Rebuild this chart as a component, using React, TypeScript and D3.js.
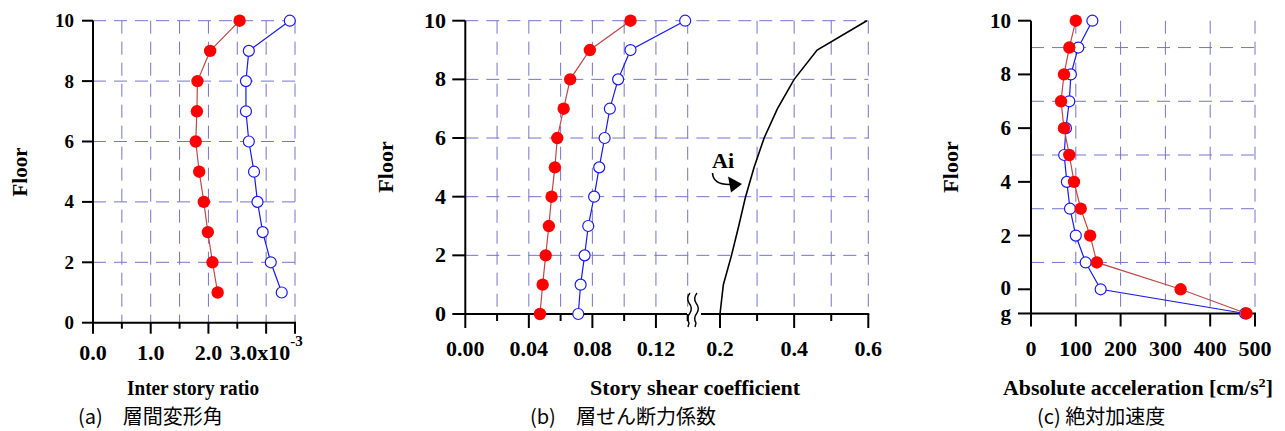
import React from "react";
import * as d3 from "d3";

// ---------- data ----------
const floorsA = [1, 2, 3, 4, 5, 6, 7, 8, 9, 10];
const driftRed = [2.16, 2.07, 1.99, 1.92, 1.84, 1.78, 1.8, 1.81, 2.03, 2.54];
const driftBlue = [3.27, 3.08, 2.94, 2.85, 2.79, 2.7, 2.65, 2.65, 2.7, 3.41];
const xTicksA = [0, 0.5, 1, 1.5, 2, 2.5, 3, 3.5];
const xLabelsA = ["0.0", "1.0", "2.0", "3.0"];

const floorsB = [0, 1, 2, 3, 4, 5, 6, 7, 8, 9, 10];
const shearRed = [0.047, 0.0487, 0.0506, 0.0526, 0.0543, 0.0564, 0.0579, 0.0619, 0.066, 0.0784, 0.104];
const shearBlue = [0.0711, 0.0726, 0.0751, 0.0774, 0.0811, 0.0843, 0.0877, 0.091, 0.0962, 0.104, 0.1384];
const aiCurve = [0.2, 0.209, 0.231, 0.2505, 0.269, 0.292, 0.319, 0.355, 0.4, 0.462, 0.596];
const xTicksBLeft = [0, 0.02, 0.04, 0.06, 0.08, 0.1, 0.12, 0.14];
const xLabelsBLeft = ["0.00", "0.04", "0.08", "0.12"];
const xTicksBRight = [0.2, 0.3, 0.4, 0.5, 0.6];
const xLabelsBRight = ["0.2", "0.4", "0.6"];

const floorLabelsC = ["g", "0", "1", "2", "3", "4", "5", "6", "7", "8", "9", "10"];
const floorPosC = [-0.9, 0, 1, 2, 3, 4, 5, 6, 7, 8, 9, 10];
const accRed = [481, 334, 147, 132, 111, 96, 85.5, 73.7, 67, 73.7, 85.5, 100];
const accBlue = [478, 155.5, 122, 100, 87, 80, 74, 78, 85.5, 89, 105.6, 137];
const xTicksC = [0, 100, 200, 300, 400, 500];

const yTicksEven = [0, 2, 4, 6, 8, 10];

// ---------- styles ----------
const SERIF = "Liberation Serif, Times New Roman, serif";
const CJK = "Noto Sans CJK JP, Noto Sans, sans-serif";
const GRID = "#7474cc";
const DASH = "13,8";
const RED_LINE = "#c04848";
const RED_FILL = "#ff0000";
const BLUE = "#1a1aee";

type Pt = [number, number];

const tickStyle: React.CSSProperties = { fontFamily: SERIF, fontWeight: "bold", fontSize: "22px" };
const yTickStyle: React.CSSProperties = { fontFamily: SERIF, fontWeight: "bold", fontSize: "21px" };
const tickStyleSmall: React.CSSProperties = { fontFamily: SERIF, fontWeight: "bold", fontSize: "19px" };
const titleStyle: React.CSSProperties = { fontFamily: SERIF, fontWeight: "bold", fontSize: "20px" };
const capStyle: React.CSSProperties = { fontFamily: CJK, fontWeight: "normal", fontSize: "20px" };

function Series({ pts, line, fill, stroke, r, open }: { pts: Pt[]; line: string; fill: string; stroke: string; r: number; open: boolean }) {
  const path = d3.line<Pt>().x((d) => d[0]).y((d) => d[1])(pts) || "";
  return (
    <g>
      <path d={path} fill="none" stroke={line} strokeWidth={1.2} />
      {pts.map((p, i) => (
        <circle key={i} cx={p[0]} cy={p[1]} r={r} fill={fill} stroke={open ? stroke : "none"} strokeWidth={1.2} />
      ))}
    </g>
  );
}

export default function App() {
  // Panel A scales
  const xA = d3.scaleLinear().domain([0, 3.5]).range([93, 295]);
  const yA = d3.scaleLinear().domain([0, 10]).range([322.7, 20.7]);
  // Panel B scales
  const xBL = d3.scaleLinear().domain([0, 0.14]).range([465.3, 687.7]);
  const xBR = d3.scaleLinear().domain([0.2, 0.6]).range([720, 868.3]);
  const yB = d3.scaleLinear().domain([0, 10]).range([314, 20.7]);
  // Panel C scales
  const xC = d3.scaleLinear().domain([0, 500]).range([1031, 1255]);
  const yC = d3.scaleLinear().domain([0, 10]).range([289.3, 20.7]);

  const aiPts: Pt[] = floorsB.map((f, i) => [xBR(aiCurve[i]), yB(f)]);
  const aiPath = d3.line<Pt>().x((d) => d[0]).y((d) => d[1])(aiPts) || "";

  return (
    <svg width={1285} height={431} style={{ position: "absolute", left: 0, top: 0, background: "#fff" }}>
      <rect x={0} y={0} width={1285} height={431} fill="#fff" />

      {/* ================= Panel A ================= */}
      <g>
        {xTicksA.filter((t) => t > 0).map((t) => (
          <line key={"gv" + t} x1={xA(t)} x2={xA(t)} y1={yA(10)} y2={yA(0)} stroke={GRID} strokeDasharray={DASH} />
        ))}
        {yTicksEven.filter((t) => t > 0).map((t) => (
          <line key={"gh" + t} x1={xA(0)} x2={xA(3.5)} y1={yA(t)} y2={yA(t)} stroke={GRID} strokeDasharray={DASH} />
        ))}
        <line x1={xA(0)} x2={xA(0)} y1={yA(10)} y2={yA(0) + 1} stroke="#000" strokeWidth={2} />
        <line x1={xA(0) - 1} x2={xA(3.5) + 1} y1={yA(0)} y2={yA(0)} stroke="#000" strokeWidth={2} />
        {yTicksEven.map((t) => (
          <g key={"yt" + t}>
            <line x1={xA(0) - 11} x2={xA(0)} y1={yA(t)} y2={yA(t)} stroke="#000" strokeWidth={2} />
            <text x={74} y={yA(t) + 6.5} textAnchor="end" style={tickStyleSmall}>{t}</text>
          </g>
        ))}
        {xTicksA.map((t, i) => (
          <line key={"xt" + t} x1={xA(t)} x2={xA(t)} y1={yA(0)} y2={yA(0) + (i % 2 === 0 || t === 3.5 ? 11 : 6)} stroke="#000" strokeWidth={2} />
        ))}
        {xLabelsA.slice(0, 3).map((l, i) => (
          <text key={l} x={xA(i)} y={360} textAnchor="middle" style={tickStyle}>{l}</text>
        ))}
        <text x={xA(3)} y={360} textAnchor="middle" style={tickStyle}>
          {xLabelsA[3]}x10<tspan dy={-14} style={{ fontSize: "15px" }}>-3</tspan>
        </text>
        <text x={193} y={395} textAnchor="middle" style={titleStyle} textLength={132} lengthAdjust="spacingAndGlyphs">Inter story ratio</text>
        <text transform={`translate(27,172) rotate(-90)`} textAnchor="middle" style={yTickStyle}>Floor</text>
        <text x={78} y={424} style={capStyle}>(a)　層間変形角</text>

        <Series pts={floorsA.map((f, i) => [xA(driftBlue[i]), yA(f)] as Pt)} line={BLUE} fill="#fff" stroke={BLUE} r={5.5} open={true} />
        <Series pts={floorsA.map((f, i) => [xA(driftRed[i]), yA(f)] as Pt)} line={RED_LINE} fill={RED_FILL} stroke={RED_FILL} r={6.2} open={false} />
      </g>

      {/* ================= Panel B ================= */}
      <g>
        {xTicksBLeft.filter((t) => t > 0).map((t) => (
          <line key={"gvl" + t} x1={xBL(t)} x2={xBL(t)} y1={yB(10)} y2={yB(0)} stroke={GRID} strokeDasharray={DASH} />
        ))}
        {xTicksBRight.filter((t) => t > 0.2).map((t) => (
          <line key={"gvr" + t} x1={xBR(t)} x2={xBR(t)} y1={yB(10)} y2={yB(0)} stroke={GRID} strokeDasharray={DASH} />
        ))}
        {yTicksEven.filter((t) => t > 0).map((t) => (
          <line key={"gh" + t} x1={xBL(0)} x2={xBR(0.6)} y1={yB(t)} y2={yB(t)} stroke={GRID} strokeDasharray={DASH} />
        ))}
        <line x1={xBL(0)} x2={xBL(0)} y1={yB(10)} y2={yB(0) + 1} stroke="#000" strokeWidth={2} />
        <line x1={xBL(0) - 1} x2={687} y1={yB(0)} y2={yB(0)} stroke="#000" strokeWidth={2} />
        <line x1={701} x2={xBR(0.6) + 1} y1={yB(0)} y2={yB(0)} stroke="#000" strokeWidth={2} />
        {/* axis break */}
        <path d="M690,293 Q686,298 689,303 Q693,308 690,313 Q686,318 689,323 L688,327" fill="none" stroke="#000" strokeWidth={1.4} />
        <path d="M697,293 Q693,298 696,303 Q700,308 697,313 Q693,318 696,323 L695,327" fill="none" stroke="#000" strokeWidth={1.4} />
        {yTicksEven.map((t) => (
          <g key={"yt" + t}>
            <line x1={xBL(0) - 13} x2={xBL(0)} y1={yB(t)} y2={yB(t)} stroke="#000" strokeWidth={2} />
            <text x={446} y={yB(t) + 7} textAnchor="end" style={tickStyle}>{t}</text>
          </g>
        ))}
        {xTicksBLeft.map((t, i) => (
          <line key={"xtl" + t} x1={xBL(t)} x2={xBL(t)} y1={yB(0)} y2={yB(0) + (i % 2 === 0 ? 14 : 7)} stroke="#000" strokeWidth={2} />
        ))}
        {xTicksBRight.map((t, i) => (
          <line key={"xtr" + t} x1={xBR(t)} x2={xBR(t)} y1={yB(0)} y2={yB(0) + (i % 2 === 0 ? 14 : 7)} stroke="#000" strokeWidth={2} />
        ))}
        {xLabelsBLeft.map((l) => (
          <text key={l} x={xBL(+l)} y={356} textAnchor="middle" style={tickStyle}>{l}</text>
        ))}
        {xLabelsBRight.map((l) => (
          <text key={l} x={xBR(+l)} y={356} textAnchor="middle" style={tickStyle}>{l}</text>
        ))}
        <text x={695} y={395} textAnchor="middle" style={titleStyle} textLength={210} lengthAdjust="spacingAndGlyphs">Story shear coefficient</text>
        <text transform={`translate(393,167) rotate(-90)`} textAnchor="middle" style={tickStyle}>Floor</text>
        <text x={530} y={424} style={capStyle}>(b)　層せん断力係数</text>

        <path d={aiPath} fill="none" stroke="#000" strokeWidth={1.6} />
        <text x={712} y={168} style={tickStyle}>Ai</text>
        <path d="M712.5,173 C713,181 719,185 731,184.5" fill="none" stroke="#000" strokeWidth={1.6} />
        <path d="M742,184 L728,176.5 L731,192.5 Z" fill="#000" />

        <Series pts={floorsB.map((f, i) => [xBL(shearBlue[i]), yB(f)] as Pt)} line={BLUE} fill="#fff" stroke={BLUE} r={5.5} open={true} />
        <Series pts={floorsB.map((f, i) => [xBL(shearRed[i]), yB(f)] as Pt)} line={RED_LINE} fill={RED_FILL} stroke={RED_FILL} r={6.2} open={false} />
      </g>

      {/* ================= Panel C ================= */}
      <g>
        {xTicksC.filter((t) => t > 0).map((t) => (
          <line key={"gv" + t} x1={xC(t)} x2={xC(t)} y1={yC(10)} y2={yC(-0.9)} stroke={GRID} strokeDasharray={DASH} />
        ))}
        {[1, 3, 5, 7, 9].map((t) => (
          <line key={"gh" + t} x1={xC(0)} x2={xC(500)} y1={yC(t)} y2={yC(t)} stroke={GRID} strokeDasharray={DASH} />
        ))}
        <line x1={xC(0)} x2={xC(0)} y1={yC(10)} y2={yC(-0.9) + 1} stroke="#000" strokeWidth={2} />
        <line x1={xC(0) - 1} x2={xC(500) + 1} y1={yC(-0.9)} y2={yC(-0.9)} stroke="#000" strokeWidth={2} />
        {floorLabelsC.map((l, i) =>
          l === "g" || +l % 2 === 0 ? (
            <g key={"yt" + l}>
              <line x1={xC(0) - 13} x2={xC(0)} y1={yC(floorPosC[i])} y2={yC(floorPosC[i])} stroke="#000" strokeWidth={2} />
              <text x={1011} y={l === "g" ? 320 : yC(floorPosC[i]) + (l === "0" ? 6 : 7)} textAnchor="end" style={yTickStyle}>{l}</text>
            </g>
          ) : null
        )}
        {xTicksC.map((t) => (
          <g key={"xt" + t}>
            <line x1={xC(t)} x2={xC(t)} y1={yC(-0.9)} y2={yC(-0.9) + 13} stroke="#000" strokeWidth={2} />
            <text x={xC(t)} y={356} textAnchor="middle" style={tickStyle}>{t}</text>
          </g>
        ))}
        <text x={1003} y={395} style={titleStyle} textLength={270} lengthAdjust="spacingAndGlyphs">
          Absolute acceleration [cm/s<tspan dy={-8} style={{ fontSize: "13px" }}>2</tspan><tspan dy={8}>]</tspan>
        </text>
        <text transform={`translate(958,167) rotate(-90)`} textAnchor="middle" style={tickStyle}>Floor</text>
        <text x={1037} y={424} style={capStyle}>(c) 絶対加速度</text>

        <Series pts={floorPosC.map((f, i) => [xC(accBlue[i]), yC(f)] as Pt)} line={BLUE} fill="#fff" stroke={BLUE} r={5.5} open={true} />
        <Series pts={floorPosC.map((f, i) => [xC(accRed[i]), yC(f)] as Pt)} line={RED_LINE} fill={RED_FILL} stroke={RED_FILL} r={6.2} open={false} />
      </g>
    </svg>
  );
}
